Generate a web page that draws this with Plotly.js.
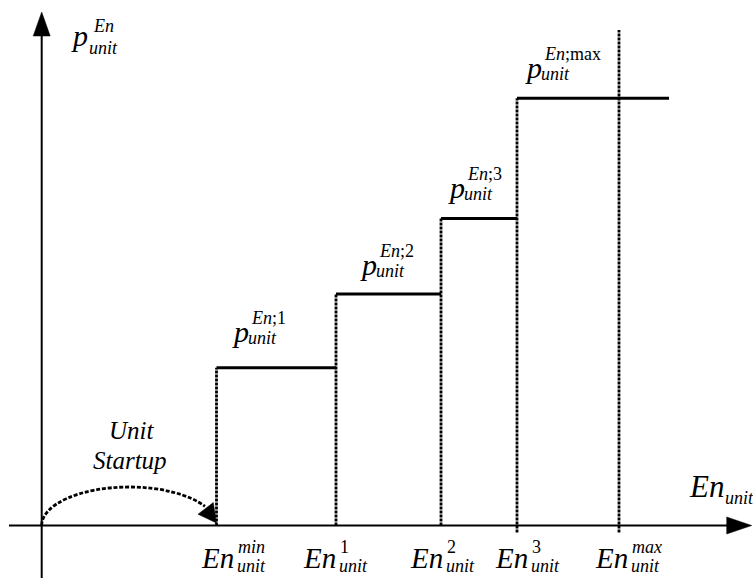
<!DOCTYPE html>
<html>
<head>
<meta charset="utf-8">
<script src="https://cdn.plot.ly/plotly-3.0.1.min.js"></script>
<style>html,body{margin:0;padding:0;background:#fff;}#chart{width:753px;height:578px;}</style>
</head>
<body>
<div id="chart"></div>
<script>
// ---------------- data ----------------
const energyNames = ['min', '1', '2', '3', 'max'];
const energyLevels = [17.48, 29.43, 39.93, 47.53, 57.73];   // En_unit^min, ^1, ^2, ^3, ^max
const stepNames = ['1', '2', '3', 'max'];
const stepPrices = [15.78, 23.15, 30.70, 42.72];            // p_unit^{En;k}
const lastStepEnd = 62.73;                                    // end of the max-price step
const emaxLineTop = 49.55;                                    // top of the En^max guide line
const startupPeak = 3.85;                                     // height of the start-up arc

// ---------------- page geometry ----------------
const W = 753, H = 578;
const XR = [-4.17, 71.13], YR = [-5.25, 52.55];
const FONT = 'Liberation Serif, Times New Roman, serif';

const traces = [];
// step segments
const stepStarts = energyLevels.slice(0, 4);
const stepEnds = energyLevels.slice(1, 4).concat([lastStepEnd]);
stepPrices.forEach((p, i) => {
  traces.push({x: [stepStarts[i], stepEnds[i]], y: [p, p], mode: 'lines',
    line: {color: '#000', width: 3}, hoverinfo: 'skip', showlegend: false});
});
// dotted verticals
const vTops = stepPrices.concat([emaxLineTop]);
const vBottoms = [0, 0, 0, -0.7, -0.7];
energyLevels.forEach((e, i) => {
  traces.push({x: [e, e], y: [vBottoms[i], vTops[i]], mode: 'lines',
    line: {color: '#000', width: 2.8, dash: '3px,1px'}, hoverinfo: 'skip', showlegend: false});
});

// ---------------- shapes ----------------
const shapes = [];
// axes
shapes.push({type: 'line', xref: 'x', yref: 'y', x0: -3.27, y0: 0, x1: 69.0, y1: 0, line: {color: '#000', width: 2}});
shapes.push({type: 'line', xref: 'x', yref: 'y', x0: 0, y0: -5.3, x1: 0, y1: 49.5, line: {color: '#000', width: 2}});
// arrowheads
shapes.push({type: 'path', xref: 'x', yref: 'y', path: 'M 68.5,0.85 L 71.0,0 L 68.5,-0.85 Z', fillcolor: '#000', line: {color: '#000', width: 0.5}});
shapes.push({type: 'path', xref: 'x', yref: 'y', path: 'M -0.85,48.95 L 0,51.35 L 0.85,48.95 Z', fillcolor: '#000', line: {color: '#000', width: 0.5}});
// start-up arc (half ellipse from origin to En^min, ending at the arrow head)
(function () {
  const E = energyLevels[0], rx = E / 2, cx = E / 2, ry = startupPeak;
  const P = f => [cx - rx * Math.cos(f), ry * Math.sin(f)];
  const D = f => [rx * Math.sin(f), ry * Math.cos(f)];
  const seg = (a, b) => {
    const k = 4 / 3 * Math.tan((b - a) / 4);
    const p0 = P(a), p3 = P(b), d0 = D(a), d3 = D(b);
    const p1 = [p0[0] + k * d0[0], p0[1] + k * d0[1]];
    const p2 = [p3[0] - k * d3[0], p3[1] - k * d3[1]];
    return ` C ${p1[0]},${p1[1]} ${p2[0]},${p2[1]} ${p3[0]},${p3[1]}`;
  };
  const fEnd = 2.62;
  const s = P(0);
  shapes.push({type: 'path', xref: 'x', yref: 'y',
    path: `M ${s[0]},${s[1]}` + seg(0, Math.PI / 2) + seg(Math.PI / 2, fEnd),
    line: {color: '#000', width: 2.8, dash: '4px,1.8px'}});
  shapes.push({type: 'path', xref: 'x', yref: 'y',
    path: `M ${E - 1.85},${1.13} L ${E},${0.25} L ${E - 0.32},${2.30} Z`,
    fillcolor: '#000', line: {color: '#000', width: 0.5}});
})();

// ---------------- text ----------------
const ann = [];
function txt(left, baseline, text, size, anchor) {
  ann.push({xref: 'paper', yref: 'paper', x: left / W, y: 1 - (baseline + 0.216 * size) / H,
    xanchor: anchor || 'left', yanchor: 'bottom', text: text, showarrow: false, borderpad: 0,
    font: {family: FONT, size: size, color: '#000'}});
}
function pLabel(left, base, sup, supOff, subOff) {
  supOff = supOff || [19, -18];
  subOff = subOff || [16, 2];
  txt(left, base, '<i>p</i>', 30);
  txt(left + supOff[0], base + supOff[1], sup, 18);
  txt(left + subOff[0], base + subOff[1], '<i>unit</i>', 18);
}
function enLabel(left, base, sup) {
  txt(left, base, '<i>En</i>', 29);
  txt(left + 37, base - 15, sup, 18);
  txt(left + 36, base + 4, '<i>unit</i>', 18);
}
// y axis label
pLabel(70, 47, '<i>En</i>', [22, -14], [18, 8]);
// step labels
const pLeft = [231, 359, 447, 524];
const pBase = [343, 276, 199, 79];
stepNames.forEach((n, i) => {
  const sup = n === 'max' ? '<i>En</i>;max' : '<i>En</i>;' + n;
  pLabel(pLeft[i], pBase[i], sup);
});
// energy labels
const eLeft = [200, 302, 409, 494, 594];
energyNames.forEach((n, i) => {
  const sup = (n === 'min' || n === 'max') ? '<i>' + n + '</i>' : n;
  enLabel(eLeft[i], 569, sup);
});
// x axis label
txt(688, 498, '<i>En</i>', 31);
txt(724, 505, '<i>unit</i>', 18);
// Unit Startup
txt(132, 440, '<i>Unit</i>', 25, 'center');
txt(130, 470, '<i>Startup</i>', 25, 'center');

const layout = {
  width: W, height: H, margin: {l: 0, r: 0, t: 0, b: 0},
  paper_bgcolor: '#fff', plot_bgcolor: '#fff',
  xaxis: {range: XR, visible: false, fixedrange: true},
  yaxis: {range: YR, visible: false, fixedrange: true},
  shapes: shapes, annotations: ann, showlegend: false
};
Plotly.newPlot('chart', traces, layout, {staticPlot: true, displayModeBar: false});
</script>
</body>
</html>
